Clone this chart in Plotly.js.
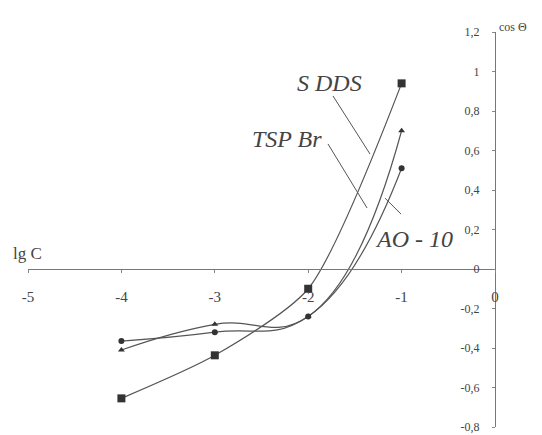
<!DOCTYPE html>
<html>
<head>
<meta charset="utf-8">
<script src="https://cdn.plot.ly/plotly-3.0.1.min.js"></script>
<style>html,body{margin:0;padding:0;background:#fff;}#chart{width:542px;height:435px;}</style>
</head>
<body>
<div id="chart"></div>
<script>
// Data
const lgC = [-4, -3, -2, -1];
const sdds = [-0.655, -0.437, -0.10, 0.94];
const tspBr = [-0.41, -0.28, -0.24, 0.70];
const ao10 = [-0.365, -0.32, -0.24, 0.51];

const xTickVals = [-5, -4, -3, -2, -1, 0];
const xTickText = ['-5', '-4', '-3', '-2', '-1', '0'];
const yTickVals = [-0.8, -0.6, -0.4, -0.2, 0, 0.2, 0.4, 0.6, 0.8, 1, 1.2];
const yTickText = ['-0,8', '-0,6', '-0,4', '-0,2', '0', '0,2', '0,4', '0,6', '0,8', '1', '1,2'];

const seriesNames = ['S DDS', 'TSP Br', 'AO - 10'];

const lineColor = '#555';
const serif = '"Liberation Serif", serif';

const traces = [
  {x: lgC, y: sdds, name: seriesNames[0], mode: 'lines+markers',
   line: {color: lineColor, width: 1.2, shape: 'spline', smoothing: 0.7},
   marker: {symbol: 'square', size: 8, color: '#333'}},
  {x: lgC, y: tspBr, name: seriesNames[1], mode: 'lines+markers',
   line: {color: lineColor, width: 1.2, shape: 'spline', smoothing: 1.3},
   marker: {symbol: 'triangle-up', size: 6, color: '#333'}},
  {x: lgC, y: ao10, name: seriesNames[2], mode: 'lines+markers',
   line: {color: lineColor, width: 1.2, shape: 'spline', smoothing: 1.3},
   marker: {symbol: 'circle', size: 6, color: '#333'}}
];

const labelFont = {family: serif, size: 24, color: '#444', style: 'italic'};

const layout = {
  width: 542, height: 435,
  margin: {l: 28, r: 47, t: 32, b: 8},
  paper_bgcolor: '#fff', plot_bgcolor: '#fff',
  showlegend: false,
  font: {family: serif, color: '#444'},
  xaxis: {
    range: [-5, 0], anchor: 'free', position: 0.4,
    showline: true, linecolor: '#777', linewidth: 1.2,
    showgrid: false, zeroline: false,
    tickvals: xTickVals, ticktext: xTickText,
    ticks: 'outside', ticklen: 3, tickcolor: '#888',
    ticklabelstandoff: 11,
    tickfont: {family: serif, size: 15, color: '#444'}
  },
  yaxis: {
    range: [-0.8, 1.2], anchor: 'free', position: 1, side: 'left',
    showline: true, linecolor: '#777', linewidth: 1.2,
    showgrid: false, zeroline: false,
    tickvals: yTickVals, ticktext: yTickText,
    ticks: 'outside', ticklen: 3, tickcolor: '#888',
    ticklabelstandoff: 10,
    tickfont: {family: serif, size: 12, color: '#444'}
  },
  annotations: [
    {x: -1.767, y: 0.942, xref: 'x', yref: 'y', text: seriesNames[0], showarrow: false, font: labelFont},
    {x: -2.227, y: 0.658, xref: 'x', yref: 'y', text: seriesNames[1], showarrow: false, font: labelFont},
    {x: -0.867, y: 0.152, xref: 'x', yref: 'y', text: seriesNames[2], showarrow: false, font: labelFont},
    {x: -5, y: 0, xref: 'x', yref: 'y', text: 'lg C', showarrow: false,
     font: {family: serif, size: 17, color: '#444'}, xanchor: 'left', yanchor: 'bottom', xshift: -17, yshift: 4},
    {x: 1, y: 1, xref: 'paper', yref: 'paper', text: 'cos Θ', showarrow: false,
     font: {family: serif, size: 12, color: '#444'}, xanchor: 'left', yanchor: 'bottom', xshift: 2, yshift: -4}
  ],
  shapes: [
    {type: 'line', xref: 'x', yref: 'y', x0: -1.734, y0: 0.876, x1: -1.338, y1: 0.582, line: {color: '#555', width: 1}},
    {type: 'line', xref: 'x', yref: 'y', x0: -1.788, y0: 0.633, x1: -1.370, y1: 0.309, line: {color: '#555', width: 1}},
    {type: 'line', xref: 'x', yref: 'y', x0: -1.178, y0: 0.359, x1: -1.006, y1: 0.278, line: {color: '#555', width: 1}}
  ]
};

Plotly.newPlot('chart', traces, layout, {displayModeBar: false, staticPlot: true});
</script>
</body>
</html>
